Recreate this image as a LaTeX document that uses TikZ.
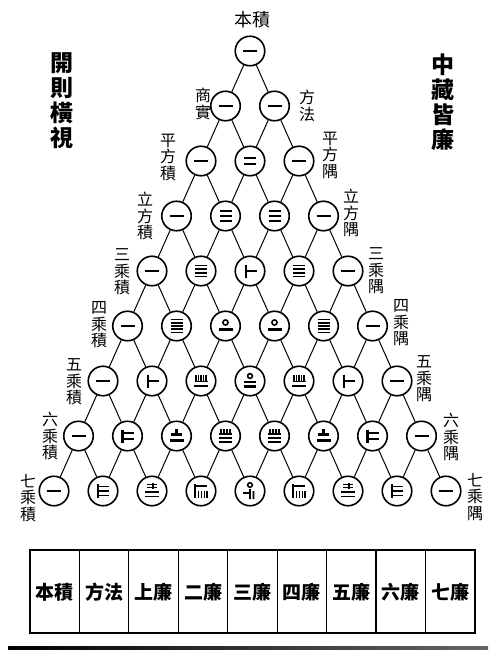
\documentclass[tikz,border=0pt]{standalone}
\usepackage{fontspec}
\newfontfamily\cjk{Noto Sans CJK TC}
\tikzset{
  rod/.style={line width=2.1pt},
  thinrod/.style={line width=1.55pt},
  num/.style={circle, draw, line width=1.6pt, minimum size=29.5pt, inner sep=0pt},
  link/.style={line width=1pt},
  lab/.style={font={\cjk\fontsize{16}{16.5}\selectfont}, align=center, inner sep=0pt},
  title/.style={font={\cjk\bfseries\fontsize{23}{25}\selectfont}, align=center, inner sep=0pt},
  cell/.style={font={\cjk\bfseries\fontsize{19}{20}\selectfont}, inner sep=0pt},
  tbl/.style={line width=1.2pt}
}
\expandafter\def\csname rodg1\endcsname{\draw[rod] (-7,0)--(7,0);}
\expandafter\def\csname rodg2\endcsname{\draw[rod] (-6,-2.8)--(6,-2.8) (-6,2.8)--(6,2.8);}
\expandafter\def\csname rodg3\endcsname{\draw[rod] (-6,-4.6)--(6,-4.6) (-6,0)--(6,0) (-6,4.6)--(6,4.6);}
\expandafter\def\csname rodg4\endcsname{\draw[thinrod] (-6,-5.7)--(6,-5.7) (-6,-1.9)--(6,-1.9) (-6,1.9)--(6,1.9) (-6,5.7)--(6,5.7);}
\expandafter\def\csname rodg5\endcsname{\draw[thinrod] (-6,-6.4)--(6,-6.4) (-6,-3.2)--(6,-3.2) (-6,0)--(6,0) (-6,3.2)--(6,3.2) (-6,6.4)--(6,6.4);}
\expandafter\def\csname rodg6\endcsname{\draw[rod] (-4,-6.5)--(-4,6.5) (-4,0)--(6.5,0);}
\expandafter\def\csname rodg7\endcsname{\draw[rod] (-5,-6.5)--(-5,6.5) (-5,-2.7)--(6,-2.7) (-5,2.7)--(6,2.7);}
\expandafter\def\csname rodg8\endcsname{\draw[thinrod] (-5,-7)--(-5,7) (-5,-4.3)--(6,-4.3) (-5,0)--(6,0) (-5,4.3)--(6,4.3);}
\expandafter\def\csname rodg10\endcsname{\draw[thinrod] (0,-3.5) circle[radius=2.6]; \draw[rod] (-7,3.5)--(7,3.5);}
\expandafter\def\csname rodg15\endcsname{\draw[thinrod] (-5,-6)--(-5,0.5) (-2.5,-6)--(-2.5,0.5) (0,-6)--(0,0.5) (2.5,-6)--(2.5,0.5) (5,-6)--(5,0.5) (-6.5,0.5)--(6.5,0.5) (-7,5)--(7,5);}
\expandafter\def\csname rodg20\endcsname{\draw[thinrod] (0,-5) circle[radius=2.4]; \draw[rod] (-6,1)--(6,1) (-6,5.5)--(6,5.5);}
\expandafter\def\csname rodg21\endcsname{\draw[rod] (0,-7)--(0,-1.5) (-5.5,-1.5)--(5.5,-1.5) (-7,4.5)--(7,4.5);}
\expandafter\def\csname rodg35\endcsname{\draw[thinrod] (-4.5,-7)--(-4.5,-2) (-1.5,-7)--(-1.5,-2) (1.5,-7)--(1.5,-2) (4.5,-7)--(4.5,-2) (-6.5,-2)--(6.5,-2) (-6.5,2)--(6.5,2) (-6.5,6)--(6.5,6);}
\expandafter\def\csname rodg28\endcsname{\draw[thinrod] (1,-8)--(1,-2) (-5,-6.5)--(5,-6.5) (-5,-3.7)--(5,-3.7) (-7,1)--(7,1) (-7,5.5)--(7,5.5);}
\expandafter\def\csname rodg56\endcsname{\draw[thinrod] (-6,-7)--(-6,7) (-6,-5)--(6,-5) (-2.5,0)--(-2.5,7) (0.5,0)--(0.5,7) (3.5,0)--(3.5,7) (6,0)--(6,7);}
\expandafter\def\csname rodg70\endcsname{\draw[thinrod] (0,-6) circle[radius=2.3] (-7,2)--(0,2) (0,-2)--(0,8) (3.5,0)--(3.5,8);}
\begin{document}
\begin{tikzpicture}[x=1pt,y=-1pt]
\useasboundingbox (0,0) rectangle (488,650);
% numbered circles
\foreach \row/\vals in {0/{1},1/{1,1},2/{1,2,1},3/{1,3,3,1},4/{1,4,6,4,1},5/{1,5,10,10,5,1},6/{1,6,15,20,15,6,1},7/{1,7,21,35,35,21,7,1},8/{1,8,28,56,70,56,28,8,1}} {
  \foreach \v [count=\k from 0] in \vals {
    \node[num] (n-\row-\k) at ({250+(\k-\row/2)*49},{51+55*\row}) {};
    \begin{scope}[shift={(n-\row-\k.center)}]
      \csname rodg\v\endcsname
    \end{scope}
  }
}
% connectors
\foreach \r in {0,...,7} {
  \foreach \k in {0,...,\r} {
    \pgfmathtruncatemacro\rn{\r+1}
    \pgfmathtruncatemacro\kn{\k+1}
    \draw[link] (n-\r-\k) -- (n-\rn-\k);
    \draw[link] (n-\r-\k) -- (n-\rn-\kn);
  }
}
% labels
\node[lab, font={\cjk\fontsize{18}{18}\selectfont}] (topl) at (252,20) {本積};
\node[lab] (l1) at (203,104) {商\\實};
\node[lab] (r1) at (307,106) {方\\法};
\foreach \t/\x/\y [count=\i] in {{平\\方\\積}/168/157,{立\\方\\積}/145/216,{三\\乘\\積}/122/272,{四\\乘\\積}/99/325,{五\\乘\\積}/74/382,{六\\乘\\積}/50/436,{七\\乘\\積}/28/498} {
  \node[lab] (ll\i) at (\x,\y) {\t};
}
\foreach \t/\x/\y [count=\i] in {{平\\方\\隅}/330/155,{立\\方\\隅}/351/213,{三\\乘\\隅}/376/271,{四\\乘\\隅}/401/323,{五\\乘\\隅}/424/379,{六\\乘\\隅}/451/437,{七\\乘\\隅}/475/497} {
  \node[lab] (rl\i) at (\x,\y) {\t};
}
\node[title] (tl) at (62,101) {開\\則\\橫\\視};
\node[title] (tr) at (443,102) {中\\藏\\皆\\廉};
% table
\draw[tbl] (30,550) rectangle (475,633);
\foreach \i in {1,...,8} {
  \draw[tbl] ({30+\i*49.44},550) -- ({30+\i*49.44},633);
}
\foreach \t [count=\i from 0] in {本積,方法,上廉,二廉,三廉,四廉,五廉,六廉,七廉} {
  \node[cell] (c\i) at ({54.7+\i*49.44},592) {\t};
}
\shade[left color=black, right color=black!60] (8,646.5) rectangle (488,650);
\end{tikzpicture}
\end{document}
